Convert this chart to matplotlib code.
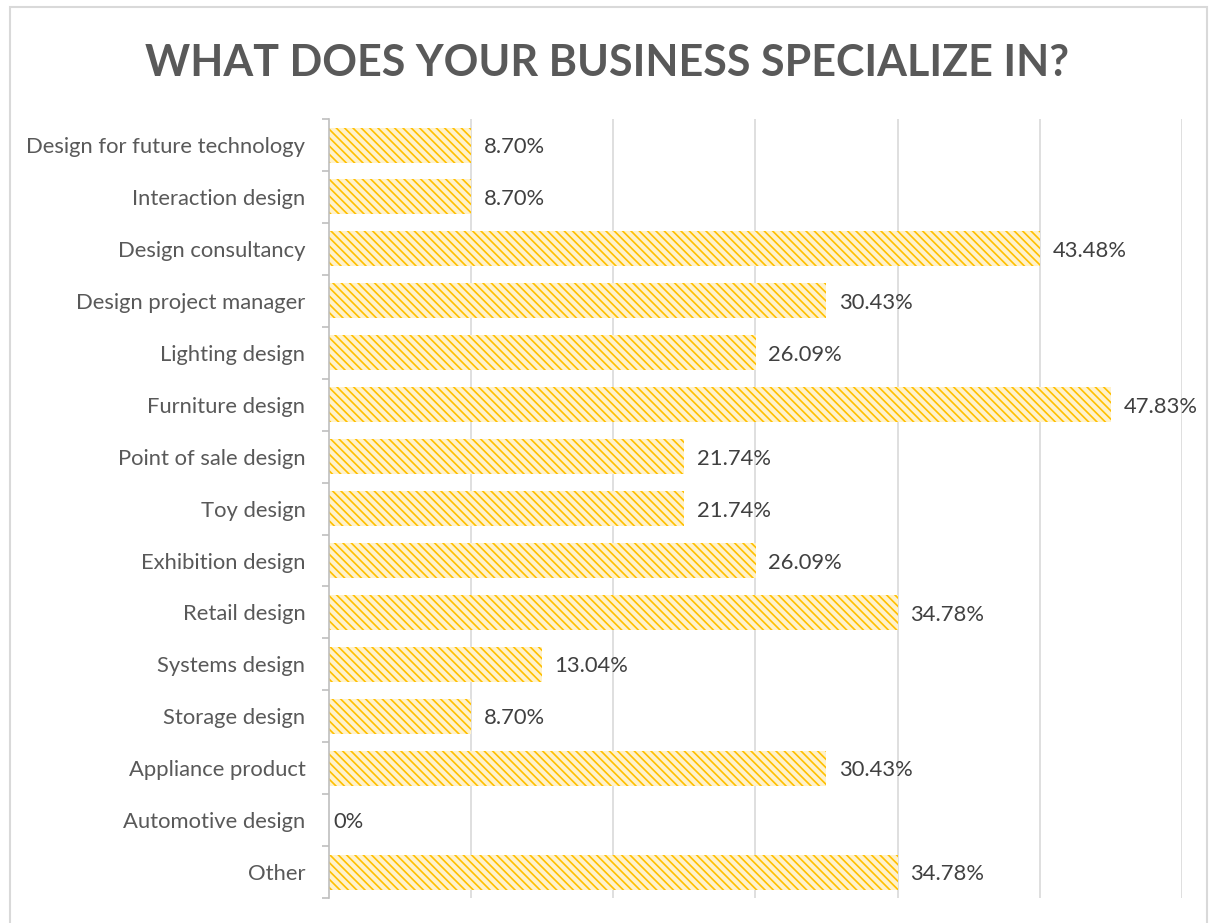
import matplotlib.pyplot as plt
import matplotlib.patches as mpatches
import numpy as np

plt.rcParams['font.family'] = ['Lato', 'DejaVu Sans']
plt.rcParams['hatch.linewidth'] = 1.2

# survey answers, top to bottom
categories = ['Design for future technology', 'Interaction design', 'Design consultancy',
              'Design project manager', 'Lighting design', 'Furniture design',
              'Point of sale design', 'Toy design', 'Exhibition design', 'Retail design',
              'Systems design', 'Storage design', 'Appliance product', 'Automotive design',
              'Other']
percent = [8.70, 8.70, 43.48, 30.43, 26.09, 47.83, 21.74, 21.74, 26.09, 34.78,
           13.04, 8.70, 30.43, 0, 34.78]
respondents = 23

fig = plt.figure(figsize=(12.14, 9.23), dpi=100)
ax = fig.add_axes([0.271, 0.027, 0.7026, 0.844])

y = np.arange(len(categories))
ax.barh(y, percent, height=0.675, color='#FFF2CC', edgecolor='#FFC000',
        hatch='\\\\\\\\', linewidth=0)

# labels after each bar
for yi, v in zip(y, percent):
    txt = '0%' if v == 0 else f'{v:.2f}%'
    off = 3 if v == 0 else 9
    ax.annotate(txt, (v, yi), xytext=(off, -1.5), textcoords='offset points',
                va='center', ha='left', fontsize=15.8, color='#404040')

# gridlines every two respondents
step = 2 * 100 / respondents
ax.set_xlim(0, 12 * 100 / respondents)
ax.set_xticks(np.arange(1, 7) * step)
ax.set_xticklabels([])
ax.tick_params(axis='x', length=0)
ax.grid(axis='x', color='#D9D9D9', linewidth=1.2)
ax.set_axisbelow(True)

ax.set_ylim(len(categories) - 0.5, -0.5)
ax.set_yticks(y)
ax.set_yticklabels(categories, fontsize=15.8, color='#595959')
ax.set_yticks(np.arange(len(categories) + 1) - 0.5, minor=True)
ax.tick_params(axis='y', which='major', length=0, pad=17)
ax.tick_params(axis='y', which='minor', length=5, color='#BFBFBF', width=1.2)

for s in ['top', 'right', 'bottom']:
    ax.spines[s].set_visible(False)
ax.spines['left'].set_color('#BFBFBF')
ax.spines['left'].set_linewidth(1.2)

fig.text(0.5, 0.932, 'WHAT DOES YOUR BUSINESS SPECIALIZE IN?', ha='center', va='center',
         fontsize=31, fontweight='bold', color='#595959')

# chart frame
fig.patches.append(mpatches.Rectangle((10 / 1214, -0.05), 1197 / 1214, 1.05 - 7 / 923,
                                      transform=fig.transFigure, fill=False,
                                      edgecolor='#D9D9D9', linewidth=1.5))

fig.savefig('out.png', dpi=100)
